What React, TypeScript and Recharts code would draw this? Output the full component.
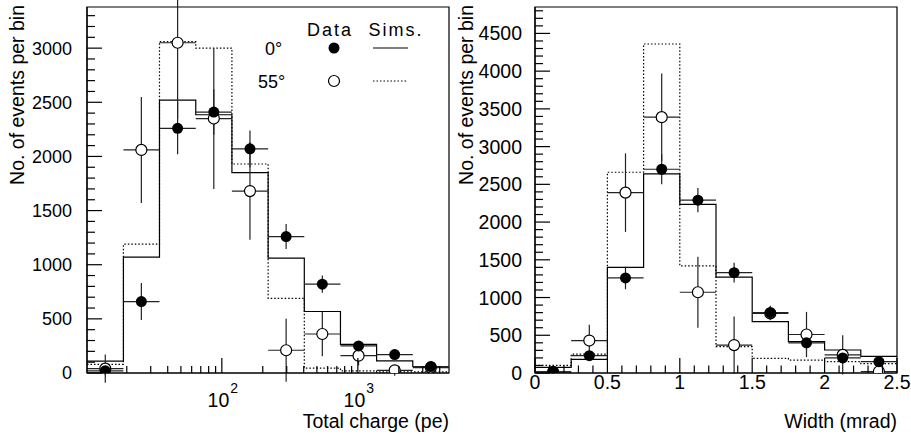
import { ComposedChart, Line, Scatter, XAxis, YAxis, ErrorBar, ReferenceArea, Legend, Label } from 'recharts'

const FONT = '"Liberation Sans", Arial, Helvetica, sans-serif'

// left panel: total charge (pe), log bins
const chargeEdges = [10.2, 18.9, 34.8, 64.3, 118.6, 219, 404, 745, 1374, 2535, 4680]
const chargeCenters = [13.9, 25.6, 47.3, 87.3, 161, 297, 548, 1012, 1866, 3443]
const chargeData0 = [20, 660, 2260, 2410, 2070, 1260, 820, 250, 170, 60]
const chargeErr0 = [40, 170, 240, 210, 170, 115, 80, 40, 30, 20]
const chargeData55 = [40, 2060, 3050, 2350, 1680, 210, 360, 160, 25, 50]
const chargeErr55 = [130, 490, 700, 650, 450, 290, 205, 90, 50, 30]
const chargeSim0 = [110, 1070, 2520, 2385, 1850, 1060, 568, 265, 112, 60]
const chargeSim55 = [80, 1190, 3060, 3000, 1930, 690, 45, 20, 10, 10]
const chargeYMax = 3380
const chargeYLabels = [0, 500, 1000, 1500, 2000, 2500, 3000]
const chargeDecades = [100, 1000]
const chargeDecadeExp = ['2', '3']
const chargeMinorX = [20, 30, 40, 50, 60, 70, 80, 90, 200, 300, 400, 500, 600, 700, 800, 900, 2000, 3000, 4000]

// right panel: width (mrad)
const widthEdges = [0, 0.25, 0.5, 0.75, 1, 1.25, 1.5, 1.75, 2, 2.25, 2.5]
const widthCenters = [0.125, 0.375, 0.625, 0.875, 1.125, 1.375, 1.625, 1.875, 2.125, 2.375]
const widthData0 = [15, 230, 1260, 2700, 2290, 1330, 800, 400, 200, 150]
const widthErr0 = [20, 60, 150, 200, 160, 130, 90, 100, 60, 50]
const widthData55 = [15, 430, 2390, 3390, 1070, 370, 790, 510, 240, 20]
const widthErr55 = [20, 210, 520, 580, 470, 380, 90, 300, 260, 30]
const widthSim0 = [75, 180, 1400, 2640, 2235, 1270, 680, 415, 305, 220]
const widthSim55 = [100, 250, 2660, 4360, 1420, 350, 195, 170, 150, 125]
const widthYMax = 4850
const widthYLabels = [0, 500, 1000, 1500, 2000, 2500, 3000, 3500, 4000, 4500]
const widthXLabels = ['0', '0.5', '1', '1.5', '2', '2.5']
const widthXMajor = [0, 0.5, 1, 1.5, 2, 2.5]

const range = (a: number, b: number, s: number) => {
  const out: number[] = []
  for (let v = a; v <= b + 1e-9; v += s) out.push(Math.round(v * 1000) / 1000)
  return out
}

const steps = (edges: number[], vals: number[]) =>
  edges.map((x, i) => ({ x, y: vals[Math.min(i, vals.length - 1)] }))

const points = (edges: number[], centers: number[], vals: number[], errs: number[]) =>
  centers.map((c, i) => ({ x: c, y: vals[i], ex: [c - edges[i], edges[i + 1] - c], ey: errs[i] }))

const FilledDot = (p: any) => <circle cx={p.cx} cy={p.cy} r={5.5} fill="#000" />
const OpenDot = (p: any) => <circle cx={p.cx} cy={p.cy} r={5.5} fill="#fff" stroke="#000" strokeWidth={1.2} />

const makeYTick = (labels: number[], fontSize: number, gap: number) => (props: any) => {
  const { x, y, payload } = props
  const major = labels.includes(payload.value)
  return (
    <g>
      <line x1={x} y1={y} x2={x + (major ? 15 : 8)} y2={y} stroke="#000" strokeWidth={1.2} />
      {major && (
        <text x={x - gap} y={y} dy="0.36em" textAnchor="end" fontSize={fontSize} fontFamily={FONT} fill="#000">
          {payload.value}
        </text>
      )}
    </g>
  )
}

const LogXTick = (props: any) => {
  const { x, y, payload } = props
  const idx = chargeDecades.indexOf(payload.value)
  const major = idx >= 0
  return (
    <g>
      <line x1={x} y1={y} x2={x} y2={y - (major ? 15 : 7)} stroke="#000" strokeWidth={1.2} />
      {major && (
        <text x={x + 1} y={y + 34} textAnchor="middle" fontSize={19.5} fontFamily={FONT} fill="#000">
          10
          <tspan dx={1} dy={-14} fontSize={14}>
            {chargeDecadeExp[idx]}
          </tspan>
        </text>
      )}
    </g>
  )
}

const LinXTick = (props: any) => {
  const { x, y, payload } = props
  const idx = widthXMajor.findIndex((v) => Math.abs(v - payload.value) < 1e-6)
  const major = idx >= 0
  return (
    <g>
      <line x1={x} y1={y} x2={x} y2={y - (major ? 15 : 7.5)} stroke="#000" strokeWidth={1.2} />
      {major && (
        <text x={x} y={y + 16} textAnchor="middle" fontSize={19.5} fontFamily={FONT} fill="#000">
          {widthXLabels[idx]}
        </text>
      )}
    </g>
  )
}

const yTitle = (x: number) => () => (
  <text transform={`translate(${x},5) rotate(-90)`} textAnchor="end" fontSize={19.5} fontFamily={FONT} fill="#000">
    No. of events per bin
  </text>
)

const LegendBox = () => (
  <svg width={190} height={80} style={{ display: 'block' }}>
    <g fontFamily={FONT} fontSize={18} fill="#000">
      <text x={80} y={21} textAnchor="middle" letterSpacing={2}>Data</text>
      <text x={146} y={21} textAnchor="middle" letterSpacing={2}>Sims.</text>
      <text x={15} y={40}>0°</text>
      <text x={8} y={73}>55°</text>
    </g>
    <circle cx={84} cy={33} r={5.5} fill="#000" />
    <line x1={123} y1={33} x2={158} y2={33} stroke="#000" strokeWidth={1.2} />
    <circle cx={84} cy={66} r={5.5} fill="#fff" stroke="#000" strokeWidth={1.2} />
    <line x1={123} y1={66} x2={158} y2={66} stroke="#000" strokeWidth={1.2} strokeDasharray="1.5 2" />
  </svg>
)

export default function App() {
  const c0 = points(chargeEdges, chargeCenters, chargeData0, chargeErr0)
  const c55 = points(chargeEdges, chargeCenters, chargeData55, chargeErr55)
  const w0 = points(widthEdges, widthCenters, widthData0, widthErr0)
  const w55 = points(widthEdges, widthCenters, widthData55, widthErr55)
  const xLo = chargeEdges[0]
  const xHi = chargeEdges[chargeEdges.length - 1]
  const logTicks = [...chargeMinorX, ...chargeDecades].sort((a, b) => a - b)

  return (
    <div style={{ position: 'absolute', left: 0, top: 0, width: 911, height: 435, background: '#fff' }}>
      <div style={{ position: 'absolute', left: 0, top: 0 }}>
        <ComposedChart width={455} height={435} margin={{ top: 7, right: 6, left: 0, bottom: 0 }}>
          <XAxis
            dataKey="x"
            type="number"
            scale="log"
            domain={[xLo, xHi]}
            allowDataOverflow
            ticks={logTicks}
            interval={0}
            tickSize={0}
            tickMargin={0}
            tickLine={false}
            axisLine={{ stroke: '#000', strokeWidth: 1.2 }}
            height={62}
            tick={LogXTick}
          >
            <Label
              content={() => (
                <text x={449} y={428} textAnchor="end" fontSize={19.5} fontFamily={FONT} fill="#000">
                  Total charge (pe)
                </text>
              )}
            />
          </XAxis>
          <YAxis
            dataKey="y"
            type="number"
            domain={[0, chargeYMax]}
            allowDataOverflow
            ticks={range(0, 3300, 100)}
            interval={0}
            width={87}
            tickSize={0}
            tickMargin={0}
            tickLine={false}
            axisLine={{ stroke: '#000', strokeWidth: 1.2 }}
            tick={makeYTick(chargeYLabels, 18, 15)}
          >
            <Label content={yTitle(24)} />
          </YAxis>
          <ReferenceArea x1={xLo} x2={xHi} y1={0} y2={chargeYMax} fill="none" stroke="#000" strokeWidth={1.2} ifOverflow="visible" />
          <Line data={steps(chargeEdges, chargeSim55)} dataKey="y" type="stepAfter" stroke="#000" strokeWidth={1.2} strokeDasharray="1.5 2" dot={false} activeDot={false} isAnimationActive={false} />
          <Line data={steps(chargeEdges, chargeSim0)} dataKey="y" type="stepAfter" stroke="#000" strokeWidth={1.2} dot={false} activeDot={false} isAnimationActive={false} />
          <Scatter data={c55} dataKey="y" shape={OpenDot} isAnimationActive={false}>
            <ErrorBar dataKey="ex" direction="x" width={0} stroke="#222" strokeWidth={1.2} isAnimationActive={false} />
            <ErrorBar dataKey="ey" direction="y" width={0} stroke="#222" strokeWidth={1.2} isAnimationActive={false} />
          </Scatter>
          <Scatter data={c0} dataKey="y" shape={FilledDot} isAnimationActive={false}>
            <ErrorBar dataKey="ex" direction="x" width={0} stroke="#222" strokeWidth={1.2} isAnimationActive={false} />
            <ErrorBar dataKey="ey" direction="y" width={0} stroke="#222" strokeWidth={1.2} isAnimationActive={false} />
          </Scatter>
          <Legend
            layout="horizontal"
            verticalAlign="middle"
            align="center"
            wrapperStyle={{ position: 'absolute', left: 250, top: 15, width: 190, height: 80, bottom: 'auto' }}
            content={() => <LegendBox />}
          />
        </ComposedChart>
      </div>
      <div style={{ position: 'absolute', left: 456, top: 0 }}>
        <ComposedChart width={455} height={435} margin={{ top: 7, right: 14, left: 0, bottom: 0 }}>
          <XAxis
            dataKey="x"
            type="number"
            domain={[0, 2.5]}
            allowDataOverflow
            ticks={range(0, 2.5, 0.1)}
            interval={0}
            tickSize={0}
            tickMargin={0}
            tickLine={false}
            axisLine={{ stroke: '#000', strokeWidth: 1.2 }}
            height={62}
            tick={LinXTick}
          >
            <Label
              content={() => (
                <text x={441} y={428} textAnchor="end" fontSize={19.5} fontFamily={FONT} fill="#000">
                  Width (mrad)
                </text>
              )}
            />
          </XAxis>
          <YAxis
            dataKey="y"
            type="number"
            domain={[0, widthYMax]}
            allowDataOverflow
            ticks={range(0, 4800, 100)}
            interval={0}
            width={79}
            tickSize={0}
            tickMargin={0}
            tickLine={false}
            axisLine={{ stroke: '#000', strokeWidth: 1.2 }}
            tick={makeYTick(widthYLabels, 19.5, 13)}
          >
            <Label content={yTitle(17)} />
          </YAxis>
          <ReferenceArea x1={0} x2={2.5} y1={0} y2={widthYMax} fill="none" stroke="#000" strokeWidth={1.2} ifOverflow="visible" />
          <Line data={steps(widthEdges, widthSim55)} dataKey="y" type="stepAfter" stroke="#000" strokeWidth={1.2} strokeDasharray="1.5 2" dot={false} activeDot={false} isAnimationActive={false} />
          <Line data={steps(widthEdges, widthSim0)} dataKey="y" type="stepAfter" stroke="#000" strokeWidth={1.2} dot={false} activeDot={false} isAnimationActive={false} />
          <Scatter data={w55} dataKey="y" shape={OpenDot} isAnimationActive={false}>
            <ErrorBar dataKey="ex" direction="x" width={0} stroke="#222" strokeWidth={1.2} isAnimationActive={false} />
            <ErrorBar dataKey="ey" direction="y" width={0} stroke="#222" strokeWidth={1.2} isAnimationActive={false} />
          </Scatter>
          <Scatter data={w0} dataKey="y" shape={FilledDot} isAnimationActive={false}>
            <ErrorBar dataKey="ex" direction="x" width={0} stroke="#222" strokeWidth={1.2} isAnimationActive={false} />
            <ErrorBar dataKey="ey" direction="y" width={0} stroke="#222" strokeWidth={1.2} isAnimationActive={false} />
          </Scatter>
        </ComposedChart>
      </div>
    </div>
  )
}
